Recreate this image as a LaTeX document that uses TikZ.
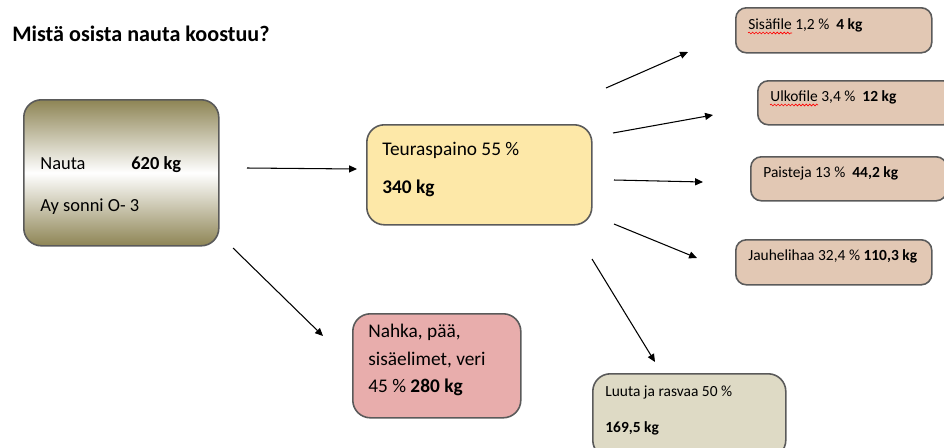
\documentclass[tikz,border=0pt]{standalone}
\usepackage{fontspec}
\setmainfont{Carlito}
\usetikzlibrary{arrows.meta,decorations.pathmorphing}

\definecolor{naOlive}{HTML}{8E8555}
\definecolor{naYellow}{HTML}{FDE8A8}
\definecolor{naPink}{HTML}{E8ADAC}
\definecolor{naTan}{HTML}{E2C8B4}
\definecolor{naGrey}{HTML}{DEDAC5}
\definecolor{naBorder}{HTML}{5A5A5A}

\begin{document}
\begin{tikzpicture}[x=0.02cm, y=-0.02cm]
                % 1. Styles
                \tikzset{
                  Box/.style = {draw=naBorder, line width=0.9pt, rounded corners=10pt,
                                anchor=north west, inner sep=0pt},
                  SmallBox/.style = {Box, fill=naTan, rounded corners=6pt},
                  Txt/.style = {anchor=base west, inner sep=0pt, font=\fontsize{11}{13}\selectfont},
                  Small/.style = {anchor=base west, inner sep=0pt, font=\fontsize{8.8}{10}\selectfont},
                  Arr/.style = {line width=0.6pt, -{Triangle[length=4.5pt, width=4pt]}},
                  Squig/.style = {red, line width=0.35pt,
                                  decorate, decoration={snake, amplitude=0.5pt, segment length=2pt}}
                }
                \clip (0,0) rectangle (944,447);

                % 2. Title
                \node[anchor=base west, inner sep=0pt, font=\fontsize{12.6}{14}\selectfont\bfseries]
                  (title) at (12,41) {Mistä osista nauta koostuu?};

                % 3. Boxes
                \node[Box, top color=naOlive, bottom color=naOlive, middle color=white,
                      minimum width=195*0.02cm, minimum height=146*0.02cm] (nauta) at (23,99) {};
                \node[Box, fill=naYellow, minimum width=225*0.02cm, minimum height=100*0.02cm] (teuras) at (366,124) {};
                \node[Box, fill=naPink, minimum width=168*0.02cm, minimum height=104*0.02cm] (nahka) at (352,313) {};
                \node[SmallBox, minimum width=196*0.02cm, minimum height=45*0.02cm] (sisa) at (735,7) {};
                \node[SmallBox, minimum width=196*0.02cm, minimum height=44*0.02cm] (ulko) at (757,80) {};
                \node[SmallBox, minimum width=196*0.02cm, minimum height=44*0.02cm] (paist) at (750,156) {};
                \node[SmallBox, minimum width=196*0.02cm, minimum height=45*0.02cm] (jauhe) at (735,239) {};
                \node[Box, fill=naGrey, minimum width=193*0.02cm, minimum height=84*0.02cm] (luu) at (592,373) {};

                % 4. Texts
                \node[Txt, font=\fontsize{10.5}{12}\selectfont] (tNauta) at (40,169) {Nauta};
                \node[Txt, font=\fontsize{10.5}{12}\selectfont] (tNautaKg) at (131,169) {\textbf{620 kg}};
                \node[Txt, font=\fontsize{10.5}{12}\selectfont] (tSonni) at (40,211) {Ay sonni O- 3};

                \node[Txt] (tTeuras) at (382,155) {Teuraspaino 55 \%};
                \node[Txt] (tTeurasKg) at (382,193) {\textbf{340 kg}};

                \node[Txt] (tNahka1) at (368,337) {Nahka, pää,};
                \node[Txt] (tNahka2) at (368,365) {sisäelimet, veri};
                \node[Txt] (tNahka3) at (368,392) {45 \% \textbf{280 kg}};

                \node[Small] (tSisa) at (748,29) {Sisäfile 1,2 \%\ \ \textbf{4 kg}};
                \node[Small] (tUlko) at (770,101) {Ulkofile 3,4 \%\ \ \textbf{12 kg}};
                \node[Small] (tPaist) at (763,177) {Paisteja 13 \%\ \ \textbf{44,2 kg}};
                \node[Small] (tJauhe) at (748,260) {Jauhelihaa 32,4 \% \textbf{110,3 kg}};
                \node[Small] (tLuu1) at (605,396) {Luuta ja rasvaa 50 \%};
                \node[Small] (tLuu2) at (605,432) {\textbf{169,5 kg}};

                % spell-check squiggles
                \draw[Squig] (748,33) -- (792,33);
                \draw[Squig] (770,105) -- (818,105);

                % 5. Arrow end points
                \coordinate (aS1) at (247,168);  \coordinate (aE1) at (357,169);
                \coordinate (aS2) at (233,248);  \coordinate (aE2) at (323,336);
                \coordinate (aS3) at (606,88);   \coordinate (aE3) at (688,52);
                \coordinate (aS4) at (613,133);  \coordinate (aE4) at (713,115);
                \coordinate (aS5) at (614,180);  \coordinate (aE5) at (703,182);
                \coordinate (aS6) at (614,224);  \coordinate (aE6) at (697,258);
                \coordinate (aS7) at (592,259);  \coordinate (aE7) at (655,362);

                % 6. Arrows
                \foreach \i in {1,...,7}
                  \draw[Arr] (aS\i) -- (aE\i);

            \end{tikzpicture}
\end{document}
